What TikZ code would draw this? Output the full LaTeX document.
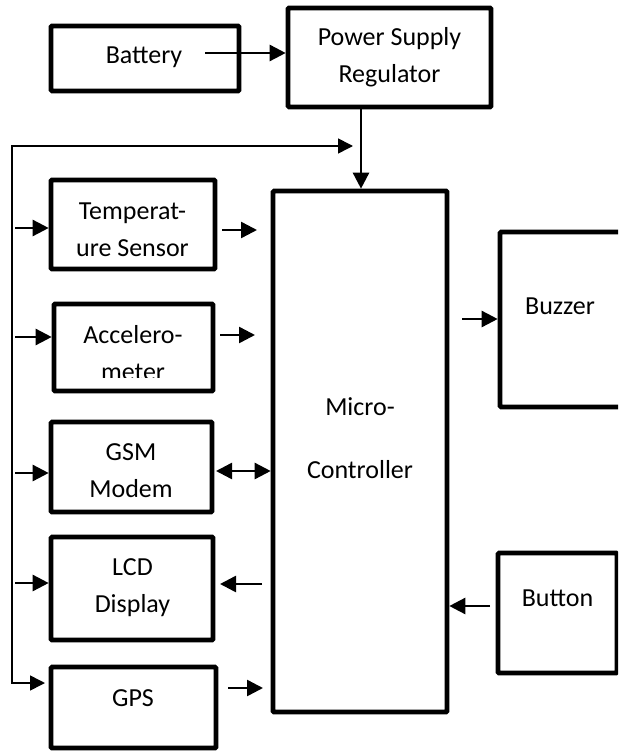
\documentclass[tikz,border=0pt]{standalone}
\usepackage{fontspec}
\setmainfont{Carlito}
\usetikzlibrary{arrows.meta}

\tikzset{
  blk/.style={draw, line width=4.6pt, inner sep=0pt, rounded corners=1pt},
  txt/.style={align=center, inner sep=0pt, font=\fontsize{26}{37}\selectfont},
  arr/.style={-{Triangle[length=16pt,width=16pt]}, line width=2.5pt},
  dblarr/.style={{Triangle[length=16pt,width=16pt]}-{Triangle[length=16pt,width=16pt]}, line width=2.5pt},
  fb/.style={{Triangle[length=15pt,width=15pt]}-{Triangle[length=15pt,width=15pt]}, line width=1.6pt},
}

\begin{document}
\begin{tikzpicture}[x=1pt,y=-1pt]
    \useasboundingbox (0,0) rectangle (618,751);
    \clip (0,0) rectangle (618,751);

    % blocks
    \node[blk, minimum width=188, minimum height=65] (bat) at (145,58.5) {};
    \node[blk, minimum width=203, minimum height=99] (psu) at (389.5,57.5) {};
    \node[blk, minimum width=174, minimum height=521] (mcu) at (360,451.5) {};
    \node[blk, minimum width=164, minimum height=89] (temp) at (133,224.5) {};
    \node[blk, minimum width=159, minimum height=87] (acc) at (133.5,347.5) {};
    \node[blk, minimum width=161, minimum height=90] (gsm) at (131.5,467) {};
    \node[blk, minimum width=162, minimum height=103] (lcd) at (132,588.5) {};
    \node[blk, minimum width=165, minimum height=81] (gps) at (133.5,707.5) {};
    \node[blk, minimum width=150, minimum height=175] (buzzer) at (575,319.5) {};
    \node[blk, minimum width=119, minimum height=120] (button) at (557.5,613) {};

    % labels
    \node[txt] (battxt) at (144,57) {Battery};
    \node[txt] (psutxt) at (389.5,57) {Power Supply\\Regulator};
    \node[txt] (mcutxt) at (360,438.5) {Micro-\\[26pt]Controller};
    \node[txt] (temptxt) at (132.5,230) {Temperat-\\ure Sensor};
    \begin{scope}
        \clip (54,304) rectangle (213,377);
        \node[txt] (acctxt) at (133,353.5) {Accelero-\\meter};
    \end{scope}
    \node[txt] (gsmtxt) at (131,471) {GSM\\Modem};
    \node[txt] (lcdtxt) at (132.5,588) {LCD\\Display};
    \node[txt] (gpstxt) at (133,698) {GPS};
    \node[txt] (buzzertxt) at (560,306) {Buzzer};
    \node[txt] (buttontxt) at (557.5,598) {Button};

    % loose ends of the short arrows
    \coordinate (batout) at (205,53);
    \coordinate (fbend) at (353,146);
    \coordinate (fbcorner) at (12,146);
    \coordinate (gpsin) at (45,683);
    \coordinate (tempout) at (222,230);
    \coordinate (tempend) at (257,230);
    \coordinate (accout) at (220,335);
    \coordinate (accend) at (255,335);
    \coordinate (gsmout) at (216,471);
    \coordinate (lcdout) at (262,584);
    \coordinate (lcdend) at (220,584);
    \coordinate (gpsout) at (228,688);
    \coordinate (gpsend) at (263,688);
    \coordinate (mcuout) at (462,319);
    \coordinate (buttonout) at (490,606);

    % power path
    \draw[arr] (batout) -- (psu.west |- batout);
    \draw[arr] (psu.south -| 361,0) -- (mcu.north -| 361,0);

    % supply rail on the left
    \draw[fb] (fbend) -- (fbcorner) -- (fbcorner |- gpsin) -- (gpsin);
    \foreach \y/\n in {228/temp,337/acc,473/gsm,583/lcd}
        \draw[arr] (15,\y) -- (\n.west |- 0,\y);

    % signals to and from the controller
    \draw[arr] (tempout) -- (tempend);
    \draw[arr] (accout) -- (accend);
    \draw[dblarr] (gsmout) -- (mcu.west |- gsmout);
    \draw[arr] (lcdout) -- (lcdend);
    \draw[arr] (gpsout) -- (gpsend);
    \draw[arr] (mcuout) -- (buzzer.west |- mcuout);
    \draw[arr] (buttonout) -- (mcu.east |- buttonout);
\end{tikzpicture}
\end{document}
